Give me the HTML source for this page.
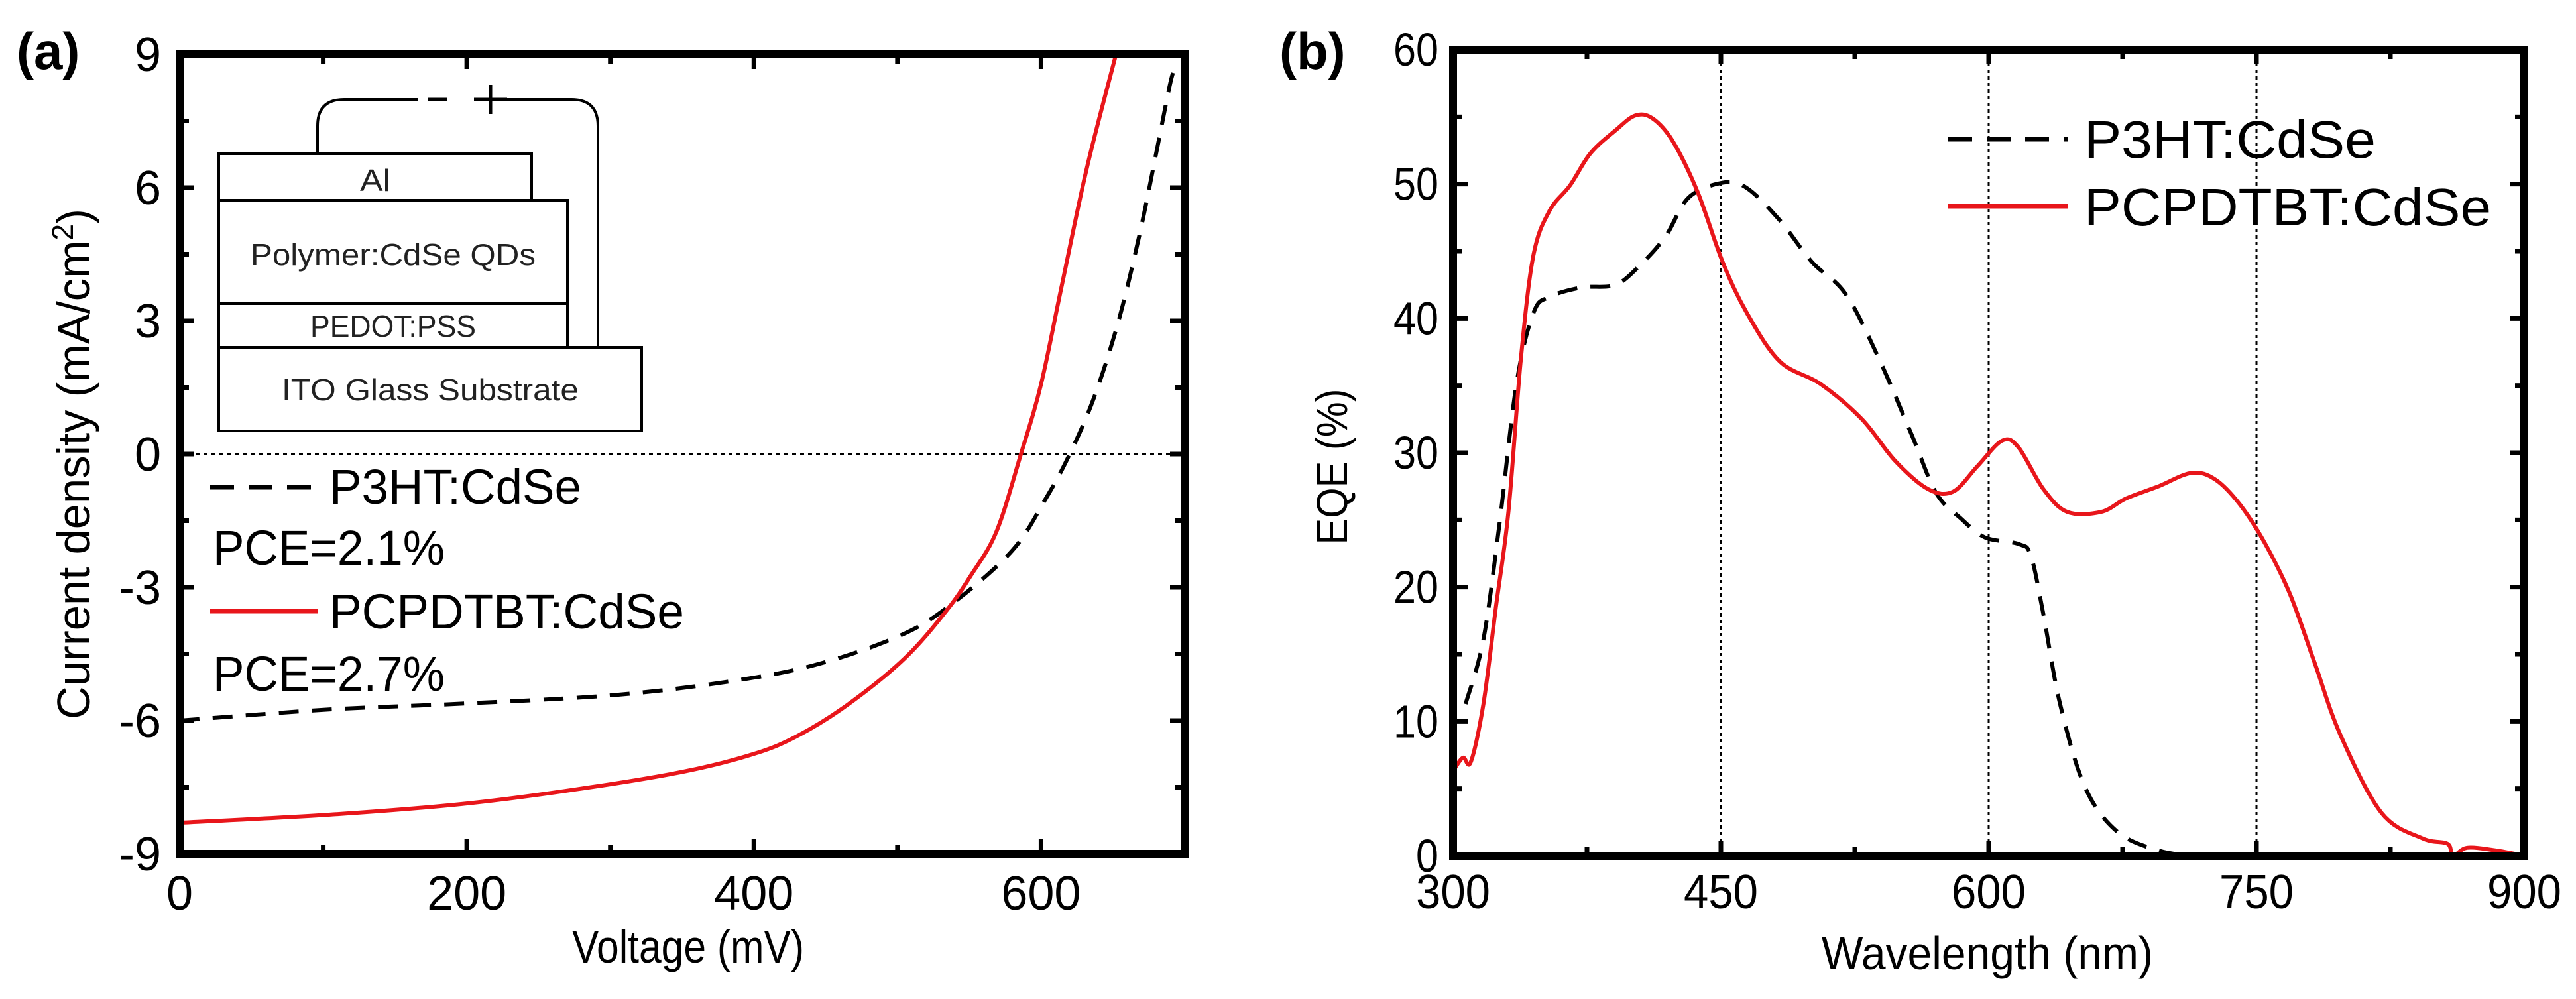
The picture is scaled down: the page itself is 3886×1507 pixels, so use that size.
<!DOCTYPE html>
<html><head><meta charset="utf-8"><style>
html,body{margin:0;padding:0;background:#fff}
svg{display:block;font-family:"Liberation Sans",sans-serif}
</style></head><body>
<svg id="fig" width="3886" height="1507" viewBox="0 0 3886 1507" xmlns="http://www.w3.org/2000/svg">
<g id="pa"></g>
<g id="pb"></g>
</svg>
<script>
// Panel (a) data: J-V
const aVoltP3HT=[0,104,196,305,391,448,505,540,580,603,620,637,654,669,680,689,692];
const aJP3HT=[-6.0,-5.75,-5.62,-5.42,-5.08,-4.7,-4.04,-3.32,-2.17,-1.02,0,1.28,3.0,5.0,6.74,8.2,8.6];
const aVoltPC=[0,104,196,276,351,400,430,465,505,534,551,569,586,600,614,632,652];
const aJPC=[-8.3,-8.12,-7.88,-7.55,-7.15,-6.75,-6.35,-5.65,-4.6,-3.53,-2.74,-1.74,0,1.57,3.72,6.45,8.97];
const aXTicks=[0,200,400,600];
const aYTicks=[-9,-6,-3,0,3,6,9];
// Panel (b) data: EQE
const bWlPC=[300,305.5,310,317,324,331,338,345,354,365.5,377,391,402,411.6,423,437,451,464.6,483,506,529,547.6,566,580,593.7,607.5,616.7,630.6,644,663,677,695,713.6,727,741,755,769,783,797,820,843,857,860,868,884,900];
const bEqePC=[6.3,7.3,7.0,11.3,18.5,25.6,37,44.7,48,49.9,52.3,54,55.1,54.9,53.2,49.4,44.2,40.4,36.8,35.1,32.5,29.4,27.3,27.1,29,30.9,30.4,27.3,25.6,25.6,26.6,27.5,28.5,28,26.1,23.2,19.4,14.2,9,3.2,1.3,0.9,0,0.6,0.4,0];
const bWlP3=[307,317,326,335.5,345,354,372,391,405,419,432,451,464.6,483,501,520,538.5,557,570.6,584.5,598,617,623.7,630.6,640,654,672,695,714];
const bEqeP3=[11.3,16.1,24.7,35.1,40.4,41.6,42.3,42.5,44,46.1,49,50.1,49.7,47.3,44.2,41.8,37,31.3,27,25.1,23.7,23.2,22.3,18,11.3,5.1,1.8,0.4,0];
const bXTicks=[300,450,600,750,900];
const bYTicks=[0,10,20,30,40,50,60];

const NS="http://www.w3.org/2000/svg";
function mk(parent,tag,attrs,text){const e=document.createElementNS(NS,tag);for(const k in attrs)e.setAttribute(k,attrs[k]);if(text!==undefined)e.textContent=text;parent.appendChild(e);return e;}
// smooth Catmull-Rom path
function path(xs,ys,fx,fy){
 const p=xs.map((x,i)=>[fx(x),fy(ys[i])]);
 let d='M'+p[0][0].toFixed(1)+','+p[0][1].toFixed(1);
 for(let i=0;i<p.length-1;i++){
  const p0=p[i-1]||p[i],p1=p[i],p2=p[i+1],p3=p[i+2]||p2;
  const c1x=p1[0]+(p2[0]-p0[0])/6,c1y=p1[1]+(p2[1]-p0[1])/6;
  const c2x=p2[0]-(p3[0]-p1[0])/6,c2y=p2[1]-(p3[1]-p1[1])/6;
  d+=' C'+c1x.toFixed(1)+','+c1y.toFixed(1)+' '+c2x.toFixed(1)+','+c2y.toFixed(1)+' '+p2[0].toFixed(1)+','+p2[1].toFixed(1);
 }
 return d;
}

// ---------- Panel A ----------
const pa=document.getElementById('pa');
const aL=271,aR=1787,aT=82,aB=1288;
const ax=v=>aL+(v-0)/700*(aR-aL);
const ay=v=>aB-(v+9)/18*(aB-aT);
let t=mk(pa,'text',{x:25,y:104,'font-size':78,'font-weight':'bold'},'(a)');


let z=mk(pa,'line',{x1:aL,x2:aR,y1:ay(0),y2:ay(0),stroke:'#000','stroke-width':3,'stroke-dasharray':'6 6'});


for(let v=-9;v<=9;v+=1.5){const L=(v%3===0)?22:14;
 mk(pa,'line',{x1:aL,x2:aL+L,y1:ay(v),y2:ay(v),stroke:'#000','stroke-width':7});
 mk(pa,'line',{x1:aR,x2:aR-L,y1:ay(v),y2:ay(v),stroke:'#000','stroke-width':7});}
for(let v=0;v<=700;v+=100){const L=(v%200===0)?22:14;
 mk(pa,'line',{x1:ax(v),x2:ax(v),y1:aB,y2:aB-L,stroke:'#000','stroke-width':7});
 mk(pa,'line',{x1:ax(v),x2:ax(v),y1:aT,y2:aT+L,stroke:'#000','stroke-width':7});}
aYTicks.forEach(v=>{const e=mk(pa,'text',{x:243,y:ay(v)+25,'font-size':72,'text-anchor':'end'},String(v));
 
 });
aXTicks.forEach(v=>{const e=mk(pa,'text',{x:ax(v),y:1372,'font-size':72,'text-anchor':'middle'},String(v));
 
 });
t=mk(pa,'text',{x:1038,y:1452,'font-size':70,'text-anchor':'middle',textLength:350,lengthAdjust:'spacingAndGlyphs'},'Voltage (mV)');


t=mk(pa,'text',{x:0,y:0,'font-size':70,'text-anchor':'middle',transform:'translate(135,700) rotate(-90)',textLength:770,lengthAdjust:'spacingAndGlyphs'});


t.innerHTML='Current density (mA/cm<tspan dy="-25" font-size="45">2</tspan><tspan dy="25">)</tspan>';
let c=mk(pa,'path',{d:path(aVoltP3HT,aJP3HT,ax,ay),fill:'none',stroke:'#000','stroke-width':6,'stroke-dasharray':'30 20'});


c=mk(pa,'path',{d:path(aVoltPC,aJPC,ax,ay),fill:'none',stroke:'#e8161b','stroke-width':6});


let f=mk(pa,'rect',{x:aL,y:aT,width:aR-aL,height:aB-aT,fill:'none',stroke:'#000','stroke-width':12});


let lg=mk(pa,'g',{});


mk(lg,'line',{x1:317,x2:479,y1:735,y2:735,stroke:'#000','stroke-width':7,'stroke-dasharray':'36 22'});
mk(lg,'text',{x:497,y:760,'font-size':74,textLength:380,lengthAdjust:'spacingAndGlyphs'},'P3HT:CdSe');
mk(lg,'text',{x:321,y:852,'font-size':74,textLength:350,lengthAdjust:'spacingAndGlyphs'},'PCE=2.1%');
mk(lg,'line',{x1:317,x2:479,y1:922,y2:922,stroke:'#e8161b','stroke-width':7});
mk(lg,'text',{x:497,y:948,'font-size':74,textLength:535,lengthAdjust:'spacingAndGlyphs'},'PCPDTBT:CdSe');
mk(lg,'text',{x:321,y:1042,'font-size':74,textLength:350,lengthAdjust:'spacingAndGlyphs'},'PCE=2.7%');
let ins=mk(pa,'g',{});


const st={fill:'#fff',stroke:'#000','stroke-width':4};
mk(ins,'path',{d:'M479,232 L479,190 Q479,150 519,150 L862,150 Q902,150 902,190 L902,524',fill:'none',stroke:'#000','stroke-width':4});
mk(ins,'rect',{x:630,y:135,width:110,height:30,fill:'#fff',stroke:'none'});
mk(ins,'line',{x1:645,x2:675,y1:150,y2:150,stroke:'#000','stroke-width':5});
mk(ins,'line',{x1:715,x2:765,y1:150,y2:150,stroke:'#000','stroke-width':5});
mk(ins,'line',{x1:740,x2:740,y1:128,y2:172,stroke:'#000','stroke-width':5});
mk(ins,'rect',Object.assign({x:330,y:524,width:638,height:126},st));
mk(ins,'rect',Object.assign({x:330,y:458,width:526,height:66},st));
mk(ins,'rect',Object.assign({x:330,y:302,width:526,height:156},st));
mk(ins,'rect',Object.assign({x:330,y:232,width:472,height:70},st));
const itf={'font-size':46,'text-anchor':'middle',fill:'#222'};
mk(ins,'text',Object.assign({x:566,y:288,textLength:46,lengthAdjust:'spacingAndGlyphs'},itf),'Al');
mk(ins,'text',Object.assign({x:593,y:400,textLength:430,lengthAdjust:'spacingAndGlyphs'},itf),'Polymer:CdSe QDs');
mk(ins,'text',Object.assign({x:593,y:508,textLength:250,lengthAdjust:'spacingAndGlyphs'},itf),'PEDOT:PSS');
mk(ins,'text',Object.assign({x:649,y:604,textLength:448,lengthAdjust:'spacingAndGlyphs'},itf),'ITO Glass Substrate');

// ---------- Panel B ----------
const pb=document.getElementById('pb');
const bL=2192,bR=3808,bT=75,bB=1291;
const bx=v=>bL+(v-300)/600*(bR-bL);
const by=v=>bB-v/60*(bB-bT);
t=mk(pb,'text',{x:1930,y:104,'font-size':78,'font-weight':'bold'},'(b)');


[450,600,750].forEach(v=>{const g=mk(pb,'line',{x1:bx(v),x2:bx(v),y1:bT,y2:bB,stroke:'#000','stroke-width':3,'stroke-dasharray':'5 5'});
 
 });
for(let v=0;v<=60;v+=5){const L=(v%10===0)?22:14;
 mk(pb,'line',{x1:bL,x2:bL+L,y1:by(v),y2:by(v),stroke:'#000','stroke-width':7});
 mk(pb,'line',{x1:bR,x2:bR-L,y1:by(v),y2:by(v),stroke:'#000','stroke-width':7});}
for(let v=300;v<=900;v+=75){const L=(v%150===0)?22:14;
 mk(pb,'line',{x1:bx(v),x2:bx(v),y1:bB,y2:bB-L,stroke:'#000','stroke-width':7});
 mk(pb,'line',{x1:bx(v),x2:bx(v),y1:bT,y2:bT+L,stroke:'#000','stroke-width':7});}
bYTicks.forEach(v=>{const e=mk(pb,'text',{x:2170,y:by(v)+24,'font-size':70,'text-anchor':'end',textLength:String(v).length*34,lengthAdjust:'spacingAndGlyphs'},String(v));
 
 });
bXTicks.forEach(v=>{const e=mk(pb,'text',{x:bx(v),y:1370,'font-size':72,'text-anchor':'middle',textLength:112,lengthAdjust:'spacingAndGlyphs'},String(v));
 
 });
t=mk(pb,'text',{x:2998,y:1462,'font-size':70,'text-anchor':'middle',textLength:500,lengthAdjust:'spacingAndGlyphs'},'Wavelength (nm)');


t=mk(pb,'text',{x:0,y:0,'font-size':66,'text-anchor':'middle',transform:'translate(2032,704) rotate(-90)',textLength:235,lengthAdjust:'spacingAndGlyphs'},'EQE (%)');


c=mk(pb,'path',{d:path(bWlP3,bEqeP3,bx,by),fill:'none',stroke:'#000','stroke-width':6,'stroke-dasharray':'30 20'});


c=mk(pb,'path',{d:path(bWlPC,bEqePC,bx,by),fill:'none',stroke:'#e8161b','stroke-width':6});


f=mk(pb,'rect',{x:bL,y:bT,width:bR-bL,height:bB-bT,fill:'none',stroke:'#000','stroke-width':12});


lg=mk(pb,'g',{});


mk(lg,'line',{x1:2939,x2:3119,y1:210,y2:210,stroke:'#000','stroke-width':7,'stroke-dasharray':'36 22'});
mk(lg,'text',{x:3144,y:238,'font-size':80,textLength:440,lengthAdjust:'spacingAndGlyphs'},'P3HT:CdSe');
mk(lg,'line',{x1:2939,x2:3119,y1:311,y2:311,stroke:'#e8161b','stroke-width':7});
mk(lg,'text',{x:3144,y:340,'font-size':80,textLength:614,lengthAdjust:'spacingAndGlyphs'},'PCPDTBT:CdSe');
</script>
</body></html>
